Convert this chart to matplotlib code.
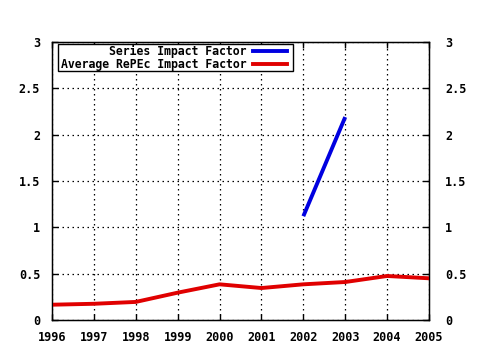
import matplotlib
matplotlib.use("Agg")
import matplotlib.pyplot as plt
from matplotlib.lines import Line2D
from matplotlib.patches import Rectangle

years = [1996, 1997, 1998, 1999, 2000, 2001, 2002, 2003, 2004, 2005]
avg_repec = [0.165, 0.175, 0.195, 0.295, 0.385, 0.345, 0.385, 0.41, 0.475, 0.45]
series_years = [2002, 2003]
series_if = [1.12, 2.19]
yticks = [0, 0.5, 1, 1.5, 2, 2.5, 3]
ytick_labels = ["0", "0.5", "1", "1.5", "2", "2.5", "3"]
labels = ["Series Impact Factor", "Average RePEc Impact Factor"]
colors = ["#0000e0", "#e00000"]

FONT = dict(family="DejaVu Sans Mono", weight="bold", size=8.5)
LFONT = dict(family="DejaVu Sans Mono", weight="bold", size=8.3)

fig = plt.figure(figsize=(4.8, 3.5), dpi=100)
ax = fig.add_axes([52/480, 1-320/350, (429-52)/480, (320-42)/350])

ax.plot(series_years, series_if, color=colors[0], lw=2.8, solid_capstyle="butt", zorder=3)
ax.plot(years, avg_repec, color=colors[1], lw=2.8, zorder=3)

ax.set_xlim(years[0], years[-1])
ax.set_ylim(0, 3)
ax.set_xticks(years)
ax.set_xticklabels([str(y) for y in years], **FONT)
ax.set_yticks(yticks)
ax.set_yticklabels(ytick_labels, **FONT)
ax.tick_params(direction="in", length=4, width=1, top=True, right=True, colors="black")
ax.tick_params(axis="y", pad=8.5)
ax.tick_params(axis="x", pad=8)
ax.grid(True, color="black", linestyle=(0, (1.2, 2.8)), linewidth=0.9)
for s in ax.spines.values():
    s.set_linewidth(1)

ax2 = ax.twinx()
ax2.set_ylim(0, 3)
ax2.set_yticks(yticks)
ax2.set_yticklabels(ytick_labels, **FONT)
ax2.tick_params(axis="y", direction="in", length=4, width=1, pad=11.5)

# legend (drawn in axes coordinates)
ax.add_patch(Rectangle((0.016, 0.897), 0.623, 0.097, transform=ax.transAxes,
                       fill=True, facecolor="white", edgecolor="black", lw=1, zorder=5))
rows_y = [0.966, 0.920]
for lab, col, yy in zip(labels, colors, rows_y):
    ax.text(0.515, yy, lab, transform=ax.transAxes, ha="right", va="center",
            zorder=6, **LFONT)
    ax.add_line(Line2D([0.533, 0.623], [yy, yy], transform=ax.transAxes,
                       color=col, lw=2.8, zorder=6))

fig.savefig("out.png", dpi=100)
